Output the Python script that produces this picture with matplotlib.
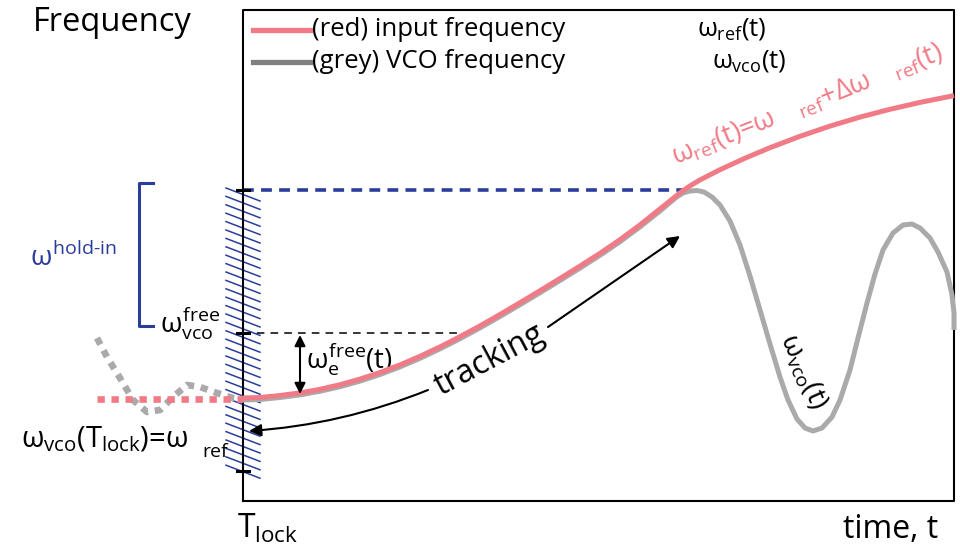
import numpy as np
import matplotlib
matplotlib.use("Agg")
import matplotlib.pyplot as plt
from matplotlib.patches import FancyArrowPatch

plt.rcParams['font.family'] = ['Open Sans', 'DejaVu Sans']
plt.rcParams['mathtext.fontset'] = 'custom'
plt.rcParams['mathtext.rm'] = 'Open Sans'
plt.rcParams['mathtext.it'] = 'Open Sans'
plt.rcParams['mathtext.bf'] = 'Open Sans'

# ---- data (pixel-space sketch coordinates) ----
red_x = [243, 260, 280, 300, 320, 340, 360, 380, 400, 420, 440, 460, 480, 500, 520, 540, 560, 580,
         600, 620, 640, 660, 680, 690, 700, 720, 745, 770, 800, 830, 860, 890, 920, 954]
red_y = [398, 397.5, 395.5, 392.9, 389.3, 384.7, 379.1, 372.5, 364.9, 356.3, 346.9, 336.7, 325.9,
         314.5, 302.7, 290.7, 278.5, 266.1, 253.3, 239.7, 224.9, 208.9, 192.9, 185.9, 179.9, 169.7,
         158.2, 147.7, 136.3, 126.1, 117.1, 109.3, 102.4, 95.6]

grey_x = [243, 260, 280, 300, 320, 340, 360, 380, 400, 420, 440, 460, 480, 500, 520, 540, 560, 580,
          600, 620, 640, 660, 676, 683, 690, 697, 704, 712, 720, 730, 740, 750, 760, 770, 780, 788,
          797, 805, 813, 822, 832, 840, 850, 858, 867, 875, 883, 893, 903, 912, 920, 930, 938, 947,
          952, 954, 954]
grey_y = [400, 399.5, 397.5, 394.9, 391.3, 386.7, 381.1, 374.5, 366.9, 358.3, 348.9, 338.7, 327.9,
          316.5, 304.7, 292.7, 280.5, 268.1, 255.3, 241.7, 226.9, 211, 197.5, 193, 191, 190.5, 192,
          197, 205, 221, 245, 276, 310, 344, 377, 400, 419, 428, 431, 428, 417, 400, 370, 338, 303,
          274, 250, 233, 225, 224, 228, 238, 252, 272, 295, 313, 330]

red_dot_x = [97, 243]
red_dot_y = [399, 399]

grey_dot_x = [97, 107, 120, 133, 147, 160, 173, 187, 200, 217, 233, 243]
grey_dot_y = [338, 357, 378, 400, 412, 410, 397, 385, 387, 393, 398, 399]

tick_y = [190, 333, 471]

RED = '#f07b86'
GREY = '#aaaaaa'
LGREY = '#808080'
BLUE = '#2b3d9c'

fig = plt.figure(figsize=(9.6, 5.55), dpi=100)
ax = fig.add_axes([0, 0, 1, 1])
ax.set_xlim(0, 960)
ax.set_ylim(555, 0)
ax.axis('off')

# box
ax.plot([243, 243, 954, 954, 243], [501, 10, 10, 501, 501], color='black', lw=1.5, zorder=3)
for ty in tick_y:
    ax.plot([237, 249], [ty, ty], color='black', lw=2.2, zorder=4)

# hatch
for hy in np.arange(188, 466, 8.4):
    ax.plot([226, 260], [hy, hy + 13], color=BLUE, lw=1.1, zorder=2)

# bracket
ax.plot([153, 139, 139, 153], [183, 183, 326, 326], color=BLUE, lw=2.2)

# dashed lines
ax.plot([243, 683], [190, 190], color=BLUE, lw=2.6, dashes=(3, 2), zorder=2)
ax.plot([243, 470], [333, 333], color='black', lw=1.1, dashes=(5, 4), zorder=2)

# dotted lines left
ax.plot(grey_dot_x, grey_dot_y, color=GREY, lw=4.8, dashes=(1.1, 1.0), zorder=3)
ax.plot(red_dot_x, red_dot_y, color=RED, lw=4.8, dashes=(1.1, 1.0), zorder=3)

# curves
ax.plot(grey_x, grey_y, color=GREY, lw=3.6, zorder=5, solid_capstyle='butt', solid_joinstyle='round')
ax.plot(red_x, red_y, color=RED, lw=3.6, zorder=6, solid_capstyle='butt', solid_joinstyle='round')

# legend
ax.plot([253, 310], [30, 30], color=RED, lw=3.8)
ax.plot([253, 310], [62, 62], color=LGREY, lw=3.8)
fs = 18.5
ax.text(312, 29, '(red) input frequency', fontsize=fs, va='center', ha='left')
ax.text(312, 61, '(grey) VCO frequency', fontsize=fs, va='center', ha='left')
ax.text(697, 29, r'$\omega_{ref}(t)$', fontsize=fs, va='center', ha='left')
ax.text(712, 61, r'$\omega_{vco}(t)$', fontsize=fs, va='center', ha='left')

# texts
ax.text(33, 31, 'Frequency', fontsize=23.5, va='baseline', ha='left')
ax.text(843, 538, 'time, t', fontsize=23, va='baseline', ha='left')
ax.text(237, 538, r'$T_{lock}$', fontsize=23, va='baseline', ha='left')
ax.text(30, 266, r'$\omega^{hold\text{-}in}$', fontsize=20, color=BLUE, va='baseline', ha='left')
ax.text(160, 333, r'$\omega^{free}_{vco}$', fontsize=20, va='baseline', ha='left')
ax.text(21, 447, r'$\omega_{vco}(T_{lock})$=$\omega$', fontsize=21, va='baseline', ha='left')
ax.text(202, 457, 'ref', fontsize=14, va='baseline', ha='left')
ax.text(306, 369, r'$\omega^{free}_{e}(t)$', fontsize=20, va='baseline', ha='left')
ax.text(490, 360, 'tracking', fontsize=23, rotation=28, va='center', ha='center', rotation_mode='anchor')
ax.text(803, 372, r'$\omega_{vco}(t)$', fontsize=20, rotation=-66, va='center', ha='center',
        rotation_mode='anchor')
ax.text(808, 105, r'$\omega_{ref}(t)$=$\omega\ \ \ _{ref}$+$\Delta\omega\ \ \ _{ref}(t)$', fontsize=19.5,
        color=RED, rotation=21.5, va='center', ha='center', rotation_mode='anchor')

# arrows
ax.add_patch(FancyArrowPatch((300, 335), (300, 394), arrowstyle='<|-|>', mutation_scale=16,
                             color='black', lw=1.5, shrinkA=0, shrinkB=0, zorder=7))
ax.add_patch(FancyArrowPatch((428, 390), (249, 431), arrowstyle='-|>', mutation_scale=18,
                             connectionstyle='arc3,rad=-0.08', color='black', lw=1.5,
                             shrinkA=0, shrinkB=0, zorder=7))
ax.add_patch(FancyArrowPatch((548, 327), (680, 236), arrowstyle='-|>', mutation_scale=18,
                             color='black', lw=1.5, shrinkA=0, shrinkB=0, zorder=7))

fig.savefig('out.png', dpi=100)
